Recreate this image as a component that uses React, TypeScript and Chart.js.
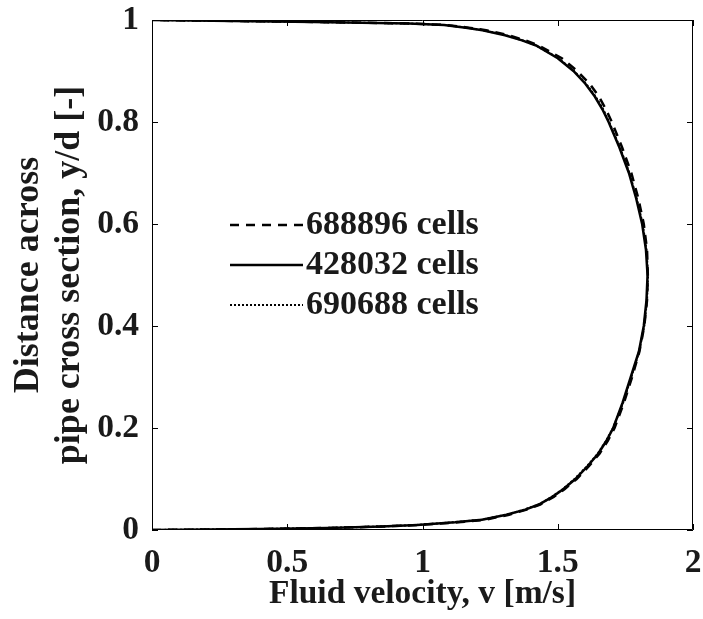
import React, { useEffect, useRef } from 'react';
import { Chart, registerables } from 'chart.js';

Chart.register(...registerables);

// Distance across pipe cross section, y/d [-]
const yFraction = [
  0, 0.001, 0.002, 0.004, 0.007, 0.01, 0.015, 0.02, 0.03, 0.04, 0.05, 0.065, 0.08, 0.1,
  0.125, 0.15, 0.175, 0.2, 0.25, 0.3, 0.35, 0.4, 0.45, 0.5, 0.55, 0.6, 0.65, 0.7, 0.75,
  0.8, 0.825, 0.85, 0.875, 0.9, 0.925, 0.95, 0.96, 0.97, 0.98, 0.985, 0.99, 0.993, 0.996,
  0.998, 1,
];

// Fluid velocity, v [m/s] for each mesh
const velocity688896 = [
  0, 0.22, 0.42, 0.66, 0.86, 0.99, 1.13, 1.23, 1.32, 1.385, 1.435, 1.485, 1.525, 1.57,
  1.615, 1.655, 1.685, 1.71, 1.745, 1.775, 1.802, 1.82, 1.83, 1.833, 1.83, 1.818, 1.798,
  1.772, 1.738, 1.7, 1.678, 1.652, 1.618, 1.572, 1.515, 1.43, 1.38, 1.318, 1.235, 1.17,
  1.09, 0.97, 0.62, 0.32, 0,
];
const velocity428032 = [
  0, 0.2, 0.4, 0.65, 0.85, 0.98, 1.12, 1.22, 1.31, 1.38, 1.43, 1.48, 1.52, 1.565,
  1.61, 1.65, 1.68, 1.705, 1.74, 1.77, 1.8, 1.818, 1.828, 1.832, 1.826, 1.812, 1.79,
  1.763, 1.728, 1.688, 1.665, 1.637, 1.602, 1.558, 1.5, 1.42, 1.368, 1.305, 1.222, 1.16,
  1.08, 0.95, 0.6, 0.3, 0,
];
const velocity690688 = [
  0, 0.21, 0.41, 0.64, 0.85, 0.98, 1.11, 1.215, 1.31, 1.375, 1.43, 1.478, 1.518, 1.562,
  1.608, 1.648, 1.679, 1.704, 1.742, 1.772, 1.801, 1.82, 1.83, 1.834, 1.828, 1.814, 1.792,
  1.765, 1.73, 1.69, 1.668, 1.64, 1.605, 1.56, 1.503, 1.42, 1.37, 1.308, 1.225, 1.165,
  1.085, 0.96, 0.61, 0.31, 0,
];

const seriesLabels = ['688896 cells', '428032 cells', '690688 cells'];
const xTickValues = [0, 0.5, 1, 1.5, 2];
const yTickValues = [0, 0.2, 0.4, 0.6, 0.8, 1];

const FONT_FAMILY = '"Liberation Serif", "Times New Roman", Times, serif';
const TEXT_COLOR = '#1a1a1a';

const boxAndTicksPlugin = {
  id: 'boxAndTicks',
  afterDatasetsDraw(chart: any) {
    const { ctx, chartArea } = chart;
    const { left, right, top, bottom } = chartArea;
    const xs = chart.scales.x;
    const ys = chart.scales.y;
    const tl = 6;
    ctx.save();
    ctx.strokeStyle = '#000';
    ctx.lineWidth = 1;
    ctx.setLineDash([]);
    ctx.beginPath();
    ctx.rect(left + 0.5, top + 0.5, right - left - 1, bottom - top - 1);
    ctx.stroke();
    ctx.beginPath();
    xTickValues.forEach((v) => {
      const px = Math.round(xs.getPixelForValue(v)) + 0.5;
      ctx.moveTo(px, bottom);
      ctx.lineTo(px, bottom - tl);
      ctx.moveTo(px, top);
      ctx.lineTo(px, top + tl);
    });
    yTickValues.forEach((v) => {
      const py = Math.round(ys.getPixelForValue(v)) + 0.5;
      ctx.moveTo(left, py);
      ctx.lineTo(left + tl, py);
      ctx.moveTo(right, py);
      ctx.lineTo(right - tl, py);
    });
    ctx.stroke();
    ctx.restore();
  },
  afterDraw(chart: any) {
    const { ctx, chartArea } = chart;
    const x0 = chartArea.left + 78;
    const y0 = chartArea.top + 205;
    const rowGap = 40;
    const sampleLen = 73;
    ctx.save();
    chart.data.datasets.forEach((ds: any, i: number) => {
      const y = y0 + i * rowGap;
      ctx.strokeStyle = ds.borderColor;
      ctx.lineWidth = ds.borderWidth;
      ctx.setLineDash(ds.borderDash || []);
      ctx.beginPath();
      ctx.moveTo(x0, y);
      ctx.lineTo(x0 + sampleLen, y);
      ctx.stroke();
      ctx.setLineDash([]);
      ctx.fillStyle = TEXT_COLOR;
      ctx.font = `bold 34px ${FONT_FAMILY}`;
      ctx.textAlign = 'left';
      ctx.textBaseline = 'middle';
      ctx.fillText(ds.label, x0 + sampleLen + 3, y);
    });
    ctx.restore();
  },
};

export default function App() {
  const canvasRef = useRef<HTMLCanvasElement | null>(null);

  useEffect(() => {
    const canvas = canvasRef.current;
    if (!canvas) return;
    const makeData = (vals: number[]) => vals.map((v, i) => ({ x: v, y: yFraction[i] }));
    const chart = new Chart(canvas, {
      type: 'line',
      data: {
        datasets: [
          {
            label: seriesLabels[0],
            data: makeData(velocity688896),
            borderColor: '#000',
            borderWidth: 2.5,
            borderDash: [9, 7],
            pointRadius: 0,
            tension: 0,
            fill: false,
          },
          {
            label: seriesLabels[1],
            data: makeData(velocity428032),
            borderColor: '#000',
            borderWidth: 2.5,
            pointRadius: 0,
            tension: 0,
            fill: false,
          },
          {
            label: seriesLabels[2],
            data: makeData(velocity690688),
            borderColor: '#000',
            borderWidth: 2,
            borderDash: [2, 2],
            pointRadius: 0,
            tension: 0,
            fill: false,
          },
        ],
      },
      options: {
        responsive: false,
        animation: false,
        layout: { padding: { left: 0, top: 20, right: 10, bottom: 0 } },
        plugins: {
          legend: { display: false },
          tooltip: { enabled: false },
        },
        scales: {
          x: {
            type: 'linear',
            min: 0,
            max: 2,
            afterBuildTicks: (s: any) => {
              s.ticks = xTickValues.map((v) => ({ value: v }));
            },
            afterFit: (s: any) => {
              s.height = 89;
              s.paddingLeft = 0;
              s.paddingRight = 0;
              s.paddingTop = 0;
              s.paddingBottom = 0;
            },
            grid: { display: false, drawTicks: false },
            border: { display: false },
            ticks: {
              padding: 13,
              color: TEXT_COLOR,
              font: { family: FONT_FAMILY, size: 33.5, weight: 'bold', lineHeight: 1.2 },
              maxRotation: 0,
              callback: (v: any) => String(v),
            },
            title: {
              display: true,
              text: 'Fluid velocity, v [m/s]',
              color: TEXT_COLOR,
              font: { family: FONT_FAMILY, size: 33.5, weight: 'bold', lineHeight: 1.2 },
              padding: { top: 0, bottom: 5 },
            },
          },
          y: {
            type: 'linear',
            min: 0,
            max: 1,
            afterBuildTicks: (s: any) => {
              s.ticks = yTickValues.map((v) => ({ value: v }));
            },
            afterFit: (s: any) => {
              s.width = 152;
              s.paddingLeft = 0;
              s.paddingRight = 0;
              s.paddingTop = 0;
              s.paddingBottom = 0;
            },
            grid: { display: false, drawTicks: false },
            border: { display: false },
            ticks: {
              padding: 13,
              color: TEXT_COLOR,
              font: { family: FONT_FAMILY, size: 33.5, weight: 'bold', lineHeight: 1.2 },
              callback: (v: any) => String(v),
            },
            title: {
              display: true,
              text: ['Distance across', 'pipe cross section, y/d [-]'],
              color: TEXT_COLOR,
              font: { family: FONT_FAMILY, size: 36, weight: 'bold', lineHeight: 1.14 },
              padding: { top: 8.5, bottom: 0 },
            },
          },
        },
      },
      plugins: [boxAndTicksPlugin],
    } as any);
    return () => chart.destroy();
  }, []);

  return (
    <div style={{ position: 'absolute', left: 0, top: 0, width: 703, height: 619, background: '#fff' }}>
      <canvas ref={canvasRef} width={703} height={619} style={{ display: 'block' }} />
    </div>
  );
}
